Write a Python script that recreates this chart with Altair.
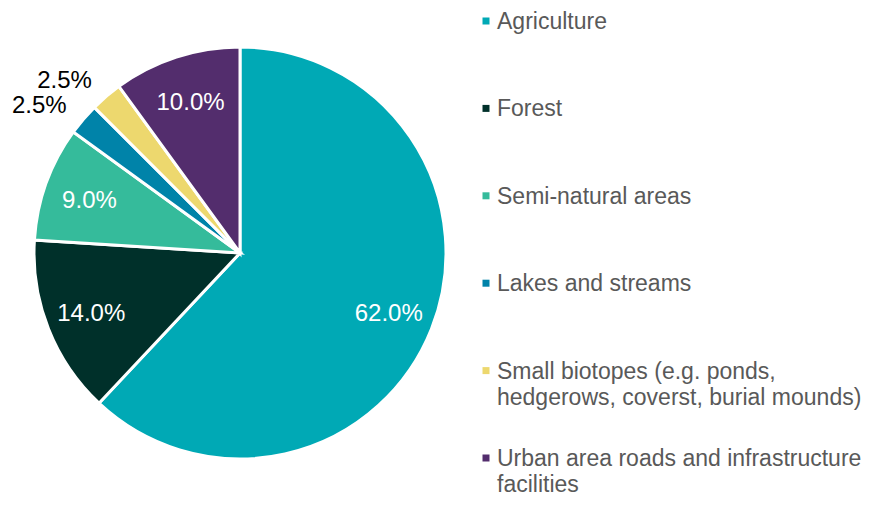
import altair as alt
import pandas as pd

categories = [
    "Agriculture",
    "Forest",
    "Semi-natural areas",
    "Lakes and streams",
    "Small biotopes (e.g. ponds,\nhedgerows, coverst, burial mounds)",
    "Urban area roads and infrastructure\nfacilities",
]
values = [62.0, 14.0, 9.0, 2.5, 2.5, 10.0]
colors = ["#00A9B5", "#00302A", "#35BB9B", "#0083A9", "#EDD86E", "#532D6D"]
label_inside = [True, True, True, False, False, True]

df = pd.DataFrame({
    "category": categories,
    "value": values,
    "idx": list(range(len(categories))),
    "inside": label_inside,
})
df["label"] = df["value"].map(lambda v: f"{v:.1f}%")

cx, cy, R = 232, 245, 206

color_scale = alt.Scale(domain=categories, range=colors)

base = alt.Chart(df)

pie = base.mark_arc(radius=R, stroke="white", strokeWidth=3).encode(
    theta=alt.Theta("value:Q", stack=True),
    order=alt.Order("idx:Q"),
    color=alt.Color("category:N", scale=color_scale, legend=None),
    x=alt.value(cx),
    y=alt.value(cy),
)

inner = base.mark_text(radius=160, fontSize=24, font="Liberation Sans", color="white",
                       dy=2).encode(
    theta=alt.Theta("value:Q", stack=True),
    order=alt.Order("idx:Q"),
    text=alt.Text("label:N"),
    x=alt.value(cx),
    y=alt.value(cy),
    opacity=alt.condition("datum.inside", alt.value(1), alt.value(0)),
)

outer = base.mark_text(radius=228, fontSize=24, font="Liberation Sans", color="black",
                       align="right", baseline="middle", dy=1).encode(
    theta=alt.Theta("value:Q", stack=True),
    order=alt.Order("idx:Q"),
    text=alt.Text("label:N"),
    x=alt.value(cx),
    y=alt.value(cy),
    opacity=alt.condition("datum.inside", alt.value(0), alt.value(1)),
)

ypos = alt.Y("category:N", sort=categories, axis=None,
             scale=alt.Scale(type="point", domain=categories, range=[13, 450], padding=0))

leg_sym = base.mark_point(shape="square", filled=True, size=49, opacity=1).encode(
    x=alt.value(478),
    y=ypos,
    color=alt.Color("category:N", scale=color_scale, legend=None),
)

leg_txt = base.mark_text(align="left", baseline="alphabetic", dy=8, fontSize=23,
                         font="Liberation Sans", color="#595959",
                         lineBreak="\n", lineHeight=26).encode(
    x=alt.value(489),
    y=ypos,
    text="category:N",
)

chart = alt.layer(pie, inner, outer, leg_sym, leg_txt).properties(
    width=861, height=490, padding=0, autosize=alt.AutoSizeParams(type="none")
).configure_view(stroke=None)

chart.save("out.html", embed_options={"renderer": "svg", "actions": False})
